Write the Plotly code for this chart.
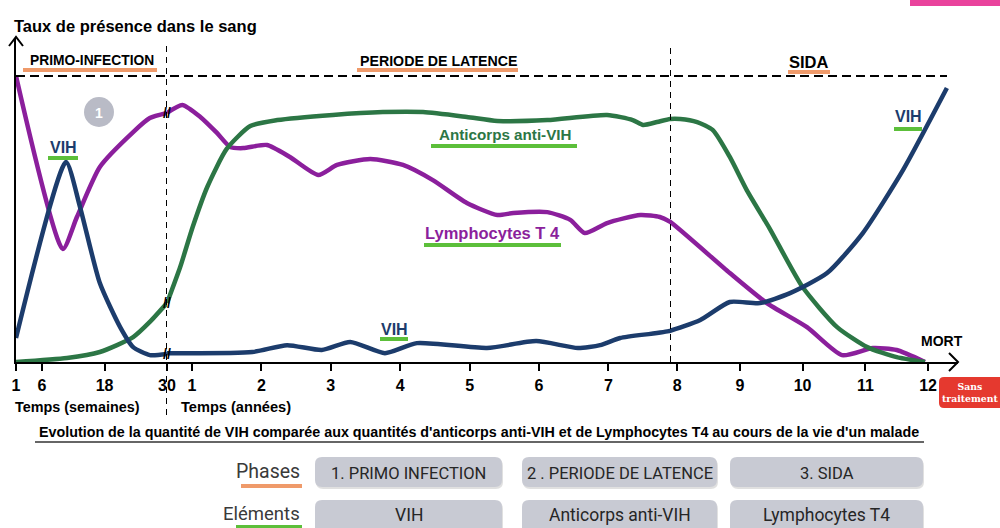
import plotly.graph_objects as go

# ---------------- data ----------------
WEEK_TICKS = [1, 6, 18, 30]
YEAR_TICKS_A = [1, 2, 3, 4, 5, 6, 7]
YEAR_TICKS_B = [8, 9, 10, 11, 12]

# Lymphocytes T4 -- weeks part then years part (0-100 = presence level)
lymph_w_x = [1, 10.0, 12.7, 17.1, 23.5, 26.7, 30]
lymph_w_y = [100, 39.5, 50.7, 68.2, 80.4, 85.3, 87.1]
lymph_y_x = [0.64, 0.86, 1.12, 1.36, 1.55, 1.74, 2.08, 2.41, 2.82, 3.09, 3.57, 4.04,
             4.47, 4.96, 5.40, 5.63, 6.12, 6.45, 6.66, 6.98, 7.46, 7.74, 7.89, 8.84,
             9.43, 10.07, 10.63, 11.12, 11.50, 11.95]
lymph_y_y = [87.1, 89.9, 85.7, 80.1, 75.2, 74.8, 75.9, 71.7, 65.4, 68.9, 71.0, 68.9,
             63.6, 55.6, 51.4, 52.1, 52.4, 49.7, 45.1, 48.6, 51.4, 50.7, 49.0, 31.1,
             20.6, 12.2, 2.4, 4.9, 4.2, 0]

# Anticorps anti-VIH
anti_w_x = [1, 10.8, 17.1, 23.5, 26.7, 30]
anti_w_y = [0, 1.4, 3.5, 8.7, 14.0, 20.6]
anti_y_x = [0.64, 0.83, 1.01, 1.22, 1.50, 1.84, 2.23, 3.03, 3.75, 4.33, 4.96, 5.40,
            6.12, 6.98, 7.35, 7.50, 7.70, 7.89, 8.05, 8.32, 8.57, 8.84, 9.11, 9.48,
            10.00, 10.55, 11.03, 11.50, 11.95]
anti_y_y = [20.6, 33.2, 47.2, 61.2, 74.5, 82.5, 84.6, 86.4, 87.4, 87.4, 85.7, 84.3,
            84.6, 86.4, 84.6, 82.9, 83.9, 85.0, 85.0, 83.9, 81.1, 71.7, 60.1, 46.5,
            26.2, 12.2, 5.2, 1.7, 0]

# VIH
vih_w_x = [1, 10.6, 13.3, 17.1, 21.0, 23.5, 26.7, 30]
vih_w_y = [8.4, 69.9, 54.2, 27.6, 12.2, 5.2, 2.4, 2.8]
vih_y_x = [0.64, 1.87, 2.37, 2.87, 3.28, 3.78, 4.24, 5.25, 5.96, 6.56, 6.88, 7.17,
           7.87, 8.37, 8.84, 9.32, 9.80, 10.39, 10.96, 11.60, 12.30]
vih_y_y = [3.1, 3.5, 5.9, 4.2, 7.0, 3.1, 6.6, 4.9, 7.3, 4.9, 5.9, 8.4,
           10.8, 14.7, 21.0, 20.6, 24.1, 31.1, 45.1, 67.1, 95.8]

PHASES = ["1. PRIMO INFECTION", "2 . PERIODE DE LATENCE", "3. SIDA"]
ELEMENTS = ["VIH", "Anticorps anti-VIH", "Lymphocytes T4"]

# ---------------- layout geometry ----------------
W, H = 1000, 528
L, R, T, B = 16, 42, 38, 166
PW, PH = W - L - R, H - T - B
WEEK_RANGE = [1, 30]
YEAR_START, SIDA_START, YEAR_END = 0.64, 7.887, 12.477
Y_MAX = 113.3


def fx(p):
    return (p - L) / PW


def fy(p):
    return (H - B - p) / PH


PURPLE = "#8b1f9c"
GREEN = "#2c7645"
BLUE = "#1c3c6c"
LGREEN = "#5cbf3a"
ORANGE = "#ef9a6a"
FONT = "Liberation Sans, Arial, sans-serif"
NARROW = "Roboto, sans-serif"

fig = go.Figure()

series = [
    (lymph_w_x, lymph_w_y, lymph_y_x, lymph_y_y, PURPLE),
    (anti_w_x, anti_w_y, anti_y_x, anti_y_y, GREEN),
    (vih_w_x, vih_w_y, vih_y_x, vih_y_y, BLUE),
]
for wx, wy, yx, yy, col in series:
    ln = dict(color=col, width=4.5, shape="spline", smoothing=0.6)
    fig.add_trace(go.Scatter(x=wx, y=wy, xaxis="x", yaxis="y", mode="lines",
                             line=ln, hoverinfo="skip", showlegend=False))
    for ax in ("x2", "x3"):
        fig.add_trace(go.Scatter(x=yx, y=yy, xaxis=ax, yaxis="y", mode="lines",
                                 line=ln, hoverinfo="skip", showlegend=False))

tickfont = dict(family=FONT, size=16, color="black", weight="bold")
common = dict(anchor="y", showline=True, linecolor="black", linewidth=2,
              ticks="outside", ticklen=7, tickwidth=2, tickcolor="black",
              tickfont=tickfont, showgrid=False, zeroline=False, fixedrange=True,
              ticklabelstandoff=1)

fig.update_layout(
    width=W, height=H, autosize=False,
    margin=dict(l=L, r=R, t=T, b=B),
    paper_bgcolor="white", plot_bgcolor="white",
    xaxis=dict(domain=[0, fx(167)], range=WEEK_RANGE, tickvals=WEEK_TICKS,
               ticktext=[str(v) for v in WEEK_TICKS], **common),
    xaxis2=dict(domain=[fx(167), fx(670)], range=[YEAR_START, SIDA_START],
                tickvals=YEAR_TICKS_A, ticktext=[str(v) for v in YEAR_TICKS_A], **common),
    xaxis3=dict(domain=[fx(670), 1], range=[SIDA_START, YEAR_END],
                tickvals=YEAR_TICKS_B, ticktext=[str(v) for v in YEAR_TICKS_B], **common),
    yaxis=dict(domain=[0, 1], range=[0, Y_MAX], anchor="x", showline=True,
               linecolor="black", linewidth=2, showticklabels=False, ticks="",
               showgrid=False, zeroline=False, fixedrange=True),
)

shapes = []
ann = []


def rect(x0, y0, x1, y1, color):
    shapes.append(dict(type="rect", xref="paper", yref="paper", x0=fx(x0), x1=fx(x1),
                       y0=fy(y1), y1=fy(y0), fillcolor=color, line=dict(width=0)))


def rrect(x0, y0, x1, y1, r, color, layer="above"):
    pts = [("M", x0 + r, y0), ("L", x1 - r, y0), ("Q", x1, y0, x1, y0 + r),
           ("L", x1, y1 - r), ("Q", x1, y1, x1 - r, y1), ("L", x0 + r, y1),
           ("Q", x0, y1, x0, y1 - r), ("L", x0, y0 + r), ("Q", x0, y0, x0 + r, y0)]
    s = ""
    for p in pts:
        cmd = p[0]
        coords = p[1:]
        s += cmd + " " + " ".join(
            f"{fx(coords[i]):.5f},{fy(coords[i + 1]):.5f}" for i in range(0, len(coords), 2)) + " "
    s += "Z"
    shapes.append(dict(type="path", path=s, xref="paper", yref="paper",
                       fillcolor=color, line=dict(width=0), layer=layer))


def text(x, y, s, size, color="black", xanchor="center", family=FONT, bold=True):
    ann.append(dict(x=fx(x), y=fy(y), xref="paper", yref="paper", text=(f"<b>{s}</b>" if bold else s),
                    showarrow=False, xanchor=xanchor, yanchor="middle",
                    font=dict(family=family, size=size, color=color)))


# dashed phase separators and ceiling
shapes.append(dict(type="line", xref="x", yref="paper", x0=30, x1=30, y0=fy(415), y1=fy(45),
                   line=dict(color="black", width=2, dash="6px,5px")))
shapes.append(dict(type="line", xref="x3", yref="paper", x0=SIDA_START, x1=SIDA_START,
                   y0=0, y1=fy(45), line=dict(color="black", width=2, dash="6px,5px")))
shapes.append(dict(type="line", xref="paper", yref="y", x0=0, x1=fx(947), y0=100, y1=100,
                   line=dict(color="black", width=2, dash="9px,5px")))

# axis arrow heads
shapes.append(dict(type="path", xref="paper", yref="paper",
                   path=f"M {fx(9)},{fy(46)} L {fx(16)},{fy(37)} L {fx(23)},{fy(46)}",
                   line=dict(color="black", width=2)))
shapes.append(dict(type="path", xref="paper", yref="paper",
                   path=f"M {fx(949)},{fy(353)} L {fx(958)},{fy(362)} L {fx(949)},{fy(371)}",
                   line=dict(color="black", width=2)))

# titles and phase labels
text(12, 26, "Taux de présence dans le sang", 16.5, xanchor="left")
text(92, 61, "PRIMO-INFECTION", 13.8)
rect(23, 68, 157, 72, ORANGE)
text(438, 61, "PERIODE DE LATENCE", 14.2)
rect(357, 68, 518, 72, ORANGE)
text(809, 62, "SIDA", 16.5)
rect(788, 70, 830, 74, ORANGE)

# numbered circle
shapes.append(dict(type="circle", xref="paper", yref="paper", x0=fx(84), x1=fx(114),
                   y0=fy(127), y1=fy(97), fillcolor="#b9bbc6", line=dict(width=0)))
text(99, 113, "1", 14, color="white")

# curve labels
text(63, 147, "VIH", 16, color=BLUE)
rect(48, 156, 78, 160, LGREEN)
text(505, 134, "Anticorps anti-VIH", 15.2, color=GREEN)
rect(431, 144, 577, 148, LGREEN)
text(492, 233, "Lymphocytes T 4", 16.5, color=PURPLE)
rect(424, 243, 561, 247, LGREEN)
text(394, 329, "VIH", 16, color=BLUE)
rect(380, 337, 408, 341, LGREEN)
text(908, 117, "VIH", 16, color=BLUE)
rect(894, 127, 922, 131, LGREEN)
text(942, 341, "MORT", 14)

# break marks
for v in (lymph_w_y[-1], anti_w_y[-1], vih_w_y[-1]):
    ann.append(dict(x=30, y=v, xref="x", yref="y", text="<b>//</b>", showarrow=False,
                    font=dict(family=FONT, size=14, color="black")))

# axis captions
text(13, 407, "Temps (semaines)", 14.4, xanchor="left")
text(179, 407, "Temps (années)", 14.6, xanchor="left")

# "Sans traitement"
rrect(939, 377, 1006, 408, 5, "#e5392f")
ann.append(dict(x=fx(1000), y=fy(392), xref="paper", yref="paper",
                text="<b>Sans<br>traitement</b>", showarrow=False,
                xanchor="right", yanchor="middle", align="center",
                font=dict(family="DejaVu Serif, serif", size=9.3, color="white")))

# caption
text(479, 432, "Evolution de la quantité de VIH comparée aux quantités d'anticorps anti-VIH et de Lymphocytes T4 au cours de la vie d'un malade", 14.3)
shapes.append(dict(type="line", xref="paper", yref="paper", x0=fx(35), x1=fx(924),
                   y0=fy(442), y1=fy(442), line=dict(color="#333333", width=1.5)))

# bottom legend rows
text(302, 471, "Phases", 19.5, color="#3a3a3a", xanchor="right", family=NARROW, bold=False)
rect(241, 484, 302, 488, ORANGE)
text(302, 514, "Eléments", 18.5, color="#3a3a3a", xanchor="right", family=NARROW, bold=False)
rect(236, 525, 302, 528, LGREEN)

cols = [(315, 502), (522, 717), (730, 923)]
rows = [(457, 487, PHASES, 16.5), (500, 534, ELEMENTS, 17.5)]
for (y0, y1, labels, fs) in rows:
    for (x0, x1), lab in zip(cols, labels):
        rrect(x0 + 1, y0 + 2, x1 + 1, y1 + 2, 7, "rgba(0,0,0,0.12)")
        rrect(x0, y0, x1, y1, 7, "#c8cad3")
        text((x0 + x1) / 2, (y0 + min(y1, 528)) / 2 + 1, lab, fs,
             color="#262626", family=NARROW, bold=False)

# pink corner bar
rect(910, 0, 1000, 6, "#e9439c")

fig.update_layout(shapes=shapes, annotations=ann)
fig.write_html("out.html", config={"displayModeBar": False},
               post_script="document.body.style.margin='0';document.body.style.overflow='hidden';")
